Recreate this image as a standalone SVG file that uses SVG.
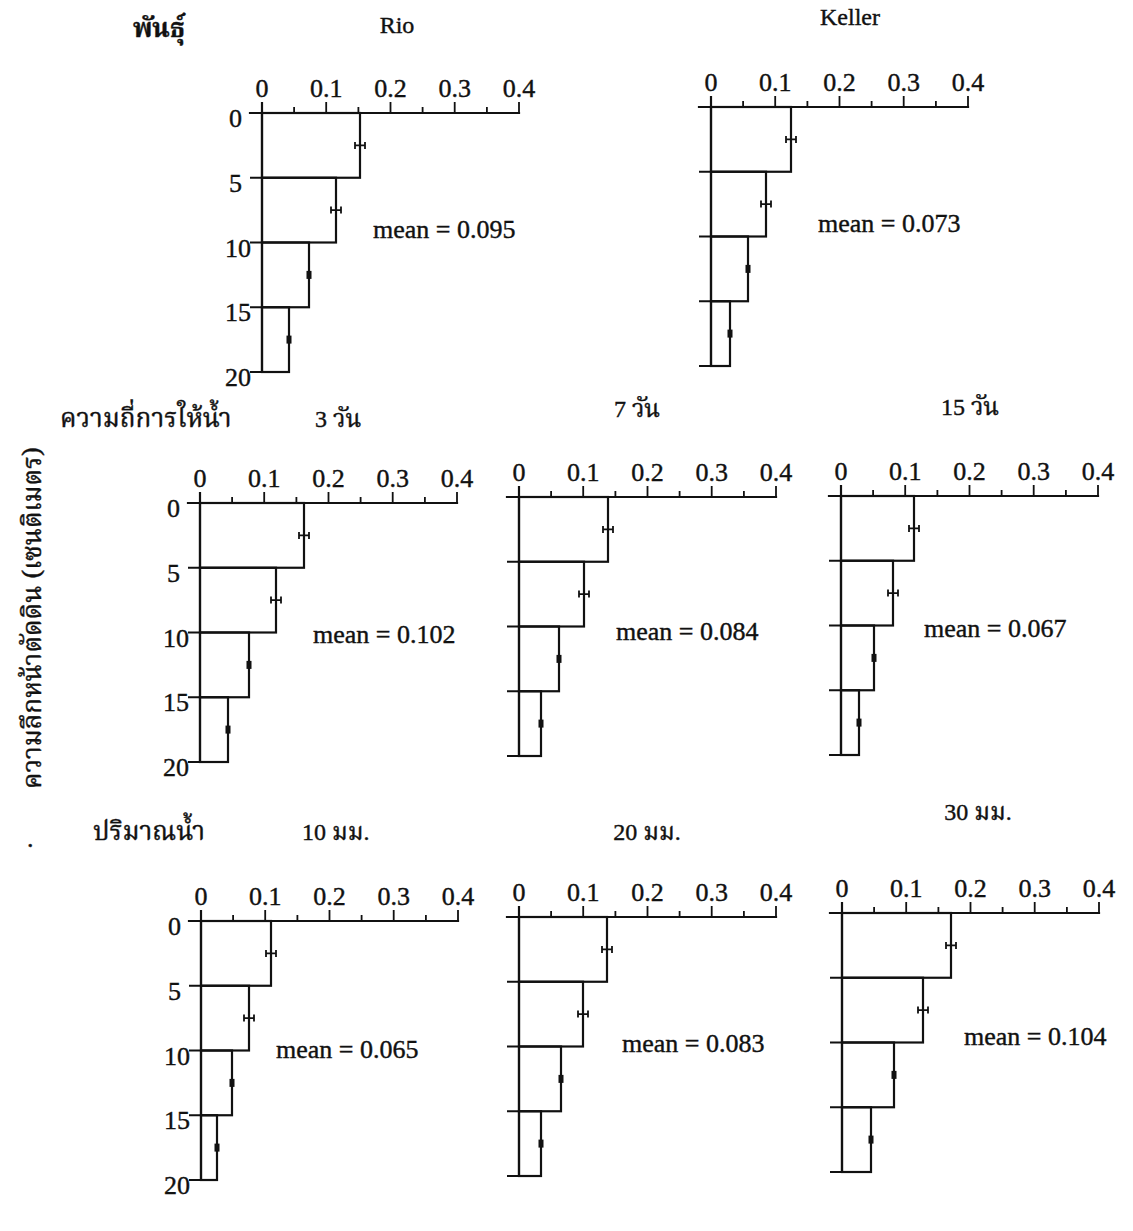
<svg xmlns="http://www.w3.org/2000/svg" width="1133" height="1231" viewBox="0 0 1133 1231">
<style>
.ln{stroke:#111;stroke-width:2.2;fill:none;stroke-linecap:square}
.tk{stroke:#111;stroke-width:1.8;fill:none}
.eb{stroke:#111;stroke-width:1.8;fill:none}
.ef{fill:#111}
text{fill:#111;stroke:#111;stroke-width:0.4}
.n{font-family:"Liberation Serif","Times New Roman",serif;font-size:26px}
.yl{font-family:"Liberation Serif","Times New Roman",serif;font-size:26px;text-anchor:end}
.m{font-family:"Liberation Serif","Times New Roman",serif;font-size:26px}
.th{font-family:"Noto Serif Thai","Noto Sans Thai","Garuda","Loma","Liberation Serif",serif;font-size:26px}
.tt{font-family:"Liberation Serif","Noto Serif Thai","Noto Sans Thai","Garuda",serif;font-size:24px}
.mid{text-anchor:middle}
</style>
<defs>
<g id="axes">
<line class="ln" x1="-12" y1="0" x2="257" y2="0"/>
<line class="ln" x1="0" y1="-10" x2="0" y2="259"/>
<path class="tk" d="M32.1,0V-6M64.2,0V-11M96.4,0V-6M128.5,0V-11M160.6,0V-6M192.7,0V-11M224.9,0V-6M257,0V-11"/>
<path class="tk" d="M-12,64.75H0M-12,129.5H0M-12,194.25H0M-12,259H0"/>
<text class="n mid" x="0" y="-16">0</text>
<text class="n mid" x="64.2" y="-16">0.1</text>
<text class="n mid" x="128.5" y="-16">0.2</text>
<text class="n mid" x="192.7" y="-16">0.3</text>
<text class="n mid" x="257" y="-16">0.4</text>
</g>
<g id="ylab">
<text class="yl" x="-20" y="14">0</text>
<text class="yl" x="-20" y="78.75">5</text>
<text class="yl" x="-11" y="143.5">10</text>
<text class="yl" x="-11" y="208.25">15</text>
<text class="yl" x="-11" y="273">20</text>
</g>
</defs>

<g id="labels">
<text class="th" x="133" y="37" font-weight="bold">พันธุ์</text>
<text class="th" x="60" y="427" font-size="27">ความถี่การให้น้ำ</text>
<text class="th" x="93" y="840" font-size="26">ปริมาณน้ำ</text>
<text class="th mid" transform="translate(41,618) rotate(-90)" font-size="27">ความลึกหน้าตัดดิน (เซนติเมตร)</text>
<text class="n" x="27" y="847">.</text>
</g>

<g id="chart-rio" transform="translate(262,113)">
<use href="#axes"/><use href="#ylab"/>
<g class="ln">
<rect x="0" y="0" width="98" height="64.75"/>
<rect x="0" y="64.75" width="74" height="64.75"/>
<rect x="0" y="129.5" width="47" height="64.75"/>
<rect x="0" y="194.25" width="27" height="64.75"/>
</g>
<path class="eb" d="M93,32.4H103M93,28.9V35.9M103,28.9V35.9M69,97.1H79M69,93.6V100.6M79,93.6V100.6"/>
<rect class="ef" x="44.5" y="157.9" width="5" height="8"/>
<rect class="ef" x="24.5" y="222.6" width="5" height="8"/>
</g>
<text class="tt mid" x="397" y="33" font-size="25">Rio</text>
<text class="m" x="373" y="238">mean = 0.095</text>

<g id="chart-keller" transform="translate(711,107)">
<use href="#axes"/>
<g class="ln">
<rect x="0" y="0" width="80" height="64.75"/>
<rect x="0" y="64.75" width="55" height="64.75"/>
<rect x="0" y="129.5" width="37" height="64.75"/>
<rect x="0" y="194.25" width="19" height="64.75"/>
</g>
<path class="eb" d="M75,32.4H85M75,28.9V35.9M85,28.9V35.9M50,97.1H60M50,93.6V100.6M60,93.6V100.6"/>
<rect class="ef" x="34.5" y="157.9" width="5" height="8"/>
<rect class="ef" x="16.5" y="222.6" width="5" height="8"/>
</g>
<text class="tt mid" x="850" y="25" font-size="25">Keller</text>
<text class="m" x="818" y="232">mean = 0.073</text>

<g id="chart-3d" transform="translate(200,503)">
<use href="#axes"/><use href="#ylab"/>
<g class="ln">
<rect x="0" y="0" width="104" height="64.75"/>
<rect x="0" y="64.75" width="76" height="64.75"/>
<rect x="0" y="129.5" width="49" height="64.75"/>
<rect x="0" y="194.25" width="28" height="64.75"/>
</g>
<path class="eb" d="M99,32.4H109M99,28.9V35.9M109,28.9V35.9M71,97.1H81M71,93.6V100.6M81,93.6V100.6"/>
<rect class="ef" x="46.5" y="157.9" width="5" height="8"/>
<rect class="ef" x="25.5" y="222.6" width="5" height="8"/>
</g>
<text class="tt" x="315" y="427">3 วัน</text>
<text class="m" x="313" y="643">mean = 0.102</text>

<g id="chart-7d" transform="translate(519,497)">
<use href="#axes"/>
<g class="ln">
<rect x="0" y="0" width="89" height="64.75"/>
<rect x="0" y="64.75" width="65" height="64.75"/>
<rect x="0" y="129.5" width="40" height="64.75"/>
<rect x="0" y="194.25" width="22" height="64.75"/>
</g>
<path class="eb" d="M84,32.4H94M84,28.9V35.9M94,28.9V35.9M60,97.1H70M60,93.6V100.6M70,93.6V100.6"/>
<rect class="ef" x="37.5" y="157.9" width="5" height="8"/>
<rect class="ef" x="19.5" y="222.6" width="5" height="8"/>
</g>
<text class="tt mid" x="637" y="417">7 วัน</text>
<text class="m" x="616" y="640">mean = 0.084</text>

<g id="chart-15d" transform="translate(841,496)">
<use href="#axes"/>
<g class="ln">
<rect x="0" y="0" width="73" height="64.75"/>
<rect x="0" y="64.75" width="52" height="64.75"/>
<rect x="0" y="129.5" width="33" height="64.75"/>
<rect x="0" y="194.25" width="18" height="64.75"/>
</g>
<path class="eb" d="M68,32.4H78M68,28.9V35.9M78,28.9V35.9M47,97.1H57M47,93.6V100.6M57,93.6V100.6"/>
<rect class="ef" x="30.5" y="157.9" width="5" height="8"/>
<rect class="ef" x="15.5" y="222.6" width="5" height="8"/>
</g>
<text class="tt mid" x="970" y="415">15 วัน</text>
<text class="m" x="924" y="637">mean = 0.067</text>

<g id="chart-10mm" transform="translate(201,921)">
<use href="#axes"/><use href="#ylab"/>
<g class="ln">
<rect x="0" y="0" width="70" height="64.75"/>
<rect x="0" y="64.75" width="48" height="64.75"/>
<rect x="0" y="129.5" width="31" height="64.75"/>
<rect x="0" y="194.25" width="16" height="64.75"/>
</g>
<path class="eb" d="M65,32.4H75M65,28.9V35.9M75,28.9V35.9M43,97.1H53M43,93.6V100.6M53,93.6V100.6"/>
<rect class="ef" x="28.5" y="157.9" width="5" height="8"/>
<rect class="ef" x="13.5" y="222.6" width="5" height="8"/>
</g>
<text class="tt" x="302" y="840">10 มม.</text>
<text class="m" x="276" y="1058">mean = 0.065</text>

<g id="chart-20mm" transform="translate(519,917)">
<use href="#axes"/>
<g class="ln">
<rect x="0" y="0" width="88" height="64.75"/>
<rect x="0" y="64.75" width="64" height="64.75"/>
<rect x="0" y="129.5" width="42" height="64.75"/>
<rect x="0" y="194.25" width="22" height="64.75"/>
</g>
<path class="eb" d="M83,32.4H93M83,28.9V35.9M93,28.9V35.9M59,97.1H69M59,93.6V100.6M69,93.6V100.6"/>
<rect class="ef" x="39.5" y="157.9" width="5" height="8"/>
<rect class="ef" x="19.5" y="222.6" width="5" height="8"/>
</g>
<text class="tt mid" x="647" y="840">20 มม.</text>
<text class="m" x="622" y="1052">mean = 0.083</text>

<g id="chart-30mm" transform="translate(842,913)">
<use href="#axes"/>
<g class="ln">
<rect x="0" y="0" width="109" height="64.75"/>
<rect x="0" y="64.75" width="81" height="64.75"/>
<rect x="0" y="129.5" width="52" height="64.75"/>
<rect x="0" y="194.25" width="29" height="64.75"/>
</g>
<path class="eb" d="M104,32.4H114M104,28.9V35.9M114,28.9V35.9M76,97.1H86M76,93.6V100.6M86,93.6V100.6"/>
<rect class="ef" x="49.5" y="157.9" width="5" height="8"/>
<rect class="ef" x="26.5" y="222.6" width="5" height="8"/>
</g>
<text class="tt mid" x="978" y="820">30 มม.</text>
<text class="m" x="964" y="1045">mean = 0.104</text>
</svg>
